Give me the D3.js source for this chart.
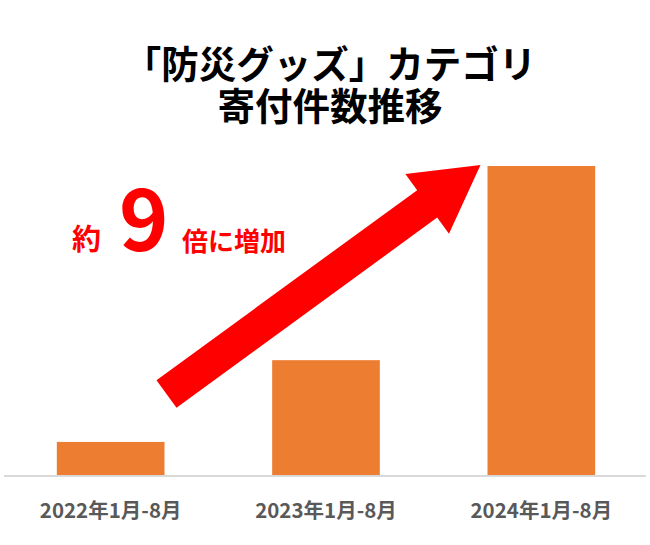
<!DOCTYPE html>
<html><head><meta charset="utf-8">
<script src="https://cdn.jsdelivr.net/npm/d3@7/dist/d3.min.js"></script>
<style>html,body{margin:0;padding:0;background:#fff;}</style>
</head><body>
<svg id="c" width="650" height="545"></svg>
<script>
const categories = ["2022年1月-8月", "2023年1月-8月", "2024年1月-8月"];
const values = [100, 340, 910];
const titleLines = ["「防災グッズ」カテゴリ", "寄付件数推移"];
const note = {pre: "約", num: "9", post: "倍に増加"};

const W = 650, H = 545;
const svg = d3.select("#c");
const font = "'Noto Sans CJK JP', 'Noto Sans', sans-serif";

const x = d3.scaleBand().domain(categories).range([3, 649]).paddingInner(0.5).paddingOuter(0.25);
const y = d3.scaleLinear().domain([0, d3.max(values)]).range([476, 166]);

// title (one text element, two lines)
svg.append("text")
  .attr("text-anchor", "middle")
  .attr("font-family", font).attr("font-weight", 700).attr("font-size", 37.5)
  .attr("fill", "#000")
  .selectAll("tspan").data(titleLines).join("tspan")
  .attr("x", 330).attr("y", (d, i) => 78 + i * 42)
  .text(d => d);

// bars
svg.append("g").selectAll("rect").data(values).join("rect")
  .attr("x", (d, i) => x(categories[i]))
  .attr("y", d => y(d))
  .attr("width", x.bandwidth())
  .attr("height", d => y(0) - y(d))
  .attr("fill", "#ED7D31");

// axis
const axis = svg.append("g").attr("transform", `translate(0,${y(0)})`)
  .call(d3.axisBottom(x).tickSize(0).tickPadding(27));
axis.select(".domain").attr("stroke", "#d9d9d9").attr("stroke-width", 2).attr("d", "M4,0H646");
axis.selectAll("text").attr("font-family", font).attr("font-size", 20.5).attr("font-weight", 700).attr("fill", "#595959");

// arrow (anchored to bar positions)
const c0 = x(categories[0]) + x.bandwidth(), c2 = x(categories[2]);
const tail = [c0 + 2, y(values[0]) - 48];
const tip = [c2 - 7, y(values[2]) - 1];
const dx = tip[0] - tail[0], dy = tip[1] - tail[1];
const L = Math.hypot(dx, dy), ux = dx / L, uy = dy / L, px = -uy, py = ux;
const sw = 17, hw = 37, hl = 66;
const base = [tip[0] - ux * hl, tip[1] - uy * hl];
const pts = [
  [tail[0] + px * sw, tail[1] + py * sw],
  [base[0] + px * sw, base[1] + py * sw],
  [base[0] + px * hw, base[1] + py * hw],
  tip,
  [base[0] - px * hw, base[1] - py * hw],
  [base[0] - px * sw, base[1] - py * sw],
  [tail[0] - px * sw, tail[1] - py * sw]
];
svg.append("path").attr("d", d3.line()(pts) + "Z").attr("fill", "#FF0000");

// annotation
const t = svg.append("text").attr("font-family", font).attr("fill", "#FF0000").attr("font-weight", 700);
t.append("tspan").attr("x", 72).attr("y", 250).attr("font-size", 29).text(note.pre);
t.append("tspan").attr("x", 119).attr("y", 251).attr("font-size", 84).text(note.num);
t.append("tspan").attr("x", 182).attr("y", 251).attr("font-size", 26).text(note.post);
</script>
</body></html>
